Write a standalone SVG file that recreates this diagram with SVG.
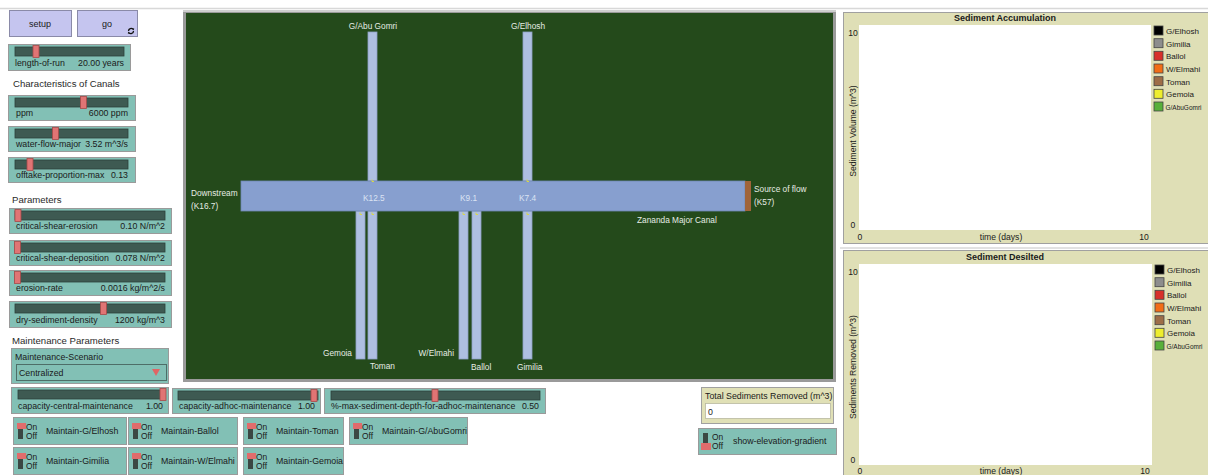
<svg xmlns="http://www.w3.org/2000/svg" width="1208" height="475" viewBox="0 0 1208 475">
<style>
text{font-family:"Liberation Sans",Arial,sans-serif;fill:#1a1a1a}
.wb{fill:#82c0b5;stroke:#9a9a9a;stroke-width:1}
.tr{fill:#3e5a52;stroke:#2c403a;stroke-width:0.8}
.hd{fill:#e07474;stroke:#a84a4a;stroke-width:0.8}
.sl{font-size:8.8px}
.hdr{font-size:9.6px;fill:#2a2a2a}
.btn{fill:#c5c5ef;stroke:#8a8aa8;stroke-width:1}
.tg{font-size:8.8px}
.onoff{font-size:8.4px}
.bar{fill:#3b4843}
.cap{fill:#e06c6c}
.wl{font-size:8.3px;fill:#e6ece4}
.kl{font-size:8.3px;fill:#dbe3f3}
.mc{fill:#879fcf;stroke:#6f87b4;stroke-width:0.8}
.sc{fill:#aebfe1;stroke:#8ea1c6;stroke-width:0.8}
.ym{stroke:#d8d84a;stroke-width:1;fill:none}
.pf{fill:#dfdfb6;stroke:#a0a0a0;stroke-width:1}
.pt{font-size:9px;font-weight:bold;text-anchor:middle}
.ax{font-size:8.6px}
.lg{font-size:8px}
.lgs{font-size:7.4px}
.lsq{stroke:#444;stroke-width:0.8}
</style>
<defs>
<g id="tgOn"><rect class="bar" x="5" y="6" width="5" height="16"/><rect class="cap" x="4" y="6" width="9" height="6"/><text class="onoff" x="13" y="13">On</text><text class="onoff" x="13" y="22">Off</text></g>
<g id="tgOff"><rect class="bar" x="5" y="5" width="5" height="15"/><rect class="cap" x="3" y="15" width="10" height="7"/><text class="onoff" x="14" y="12">On</text><text class="onoff" x="14" y="21">Off</text></g>
</defs>
<line x1="0" y1="8.5" x2="1208" y2="8.5" stroke="#d8d8d8" stroke-width="1.5"/>
<line x1="840" y1="248" x2="1208" y2="248" stroke="#d8d8d8" stroke-width="1.5"/>

<g id="btn-setup"><rect class="btn" x="9.5" y="10.5" width="62" height="26"/><text x="40" y="27" font-size="9" text-anchor="middle">setup</text></g>
<g id="btn-go"><rect class="btn" x="77.5" y="10.5" width="60" height="26"/><text x="107" y="27" font-size="9" text-anchor="middle">go</text>
<path d="M128.5 31 a2.6 2.6 0 0 1 4.6 -1.6 M133.5 31 a2.6 2.6 0 0 1 -4.6 1.6" fill="none" stroke="#111" stroke-width="1.3"/><path d="M132 28.2 l2.2 0.2 l-0.4 2z M130 33.8 l-2.2 -0.2 l0.4 -2z" fill="#111"/></g>

<g id="sl-length"><rect class="wb" x="8.5" y="44.5" width="122" height="26"/><rect class="tr" x="15" y="47" width="109" height="9"/><rect class="hd" x="33" y="45.5" width="6" height="12"/><text class="sl" x="15" y="66">length-of-run</text><text class="sl" x="124" y="66" text-anchor="end">20.00 years</text></g>
<text class="hdr" x="13" y="87">Characteristics of Canals</text>
<g id="sl-ppm"><rect class="wb" x="8.5" y="95.5" width="127" height="25"/><rect class="tr" x="15" y="98" width="113" height="9"/><rect class="hd" x="80.5" y="96.5" width="6" height="12"/><text class="sl" x="16" y="116">ppm</text><text class="sl" x="128" y="116" text-anchor="end">6000 ppm</text></g>
<g id="sl-water"><rect class="wb" x="8.5" y="126.5" width="127" height="25"/><rect class="tr" x="15" y="129" width="113" height="9"/><rect class="hd" x="52.5" y="127.5" width="6" height="12"/><text class="sl" x="16" y="147">water-flow-major</text><text class="sl" x="128" y="147" text-anchor="end">3.52 m^3/s</text></g>
<g id="sl-offtake"><rect class="wb" x="8.5" y="157.5" width="127" height="25"/><rect class="tr" x="15" y="160" width="113" height="9"/><rect class="hd" x="27" y="158.5" width="6" height="12"/><text class="sl" x="16" y="178">offtake-proportion-max</text><text class="sl" x="128" y="178" text-anchor="end">0.13</text></g>

<text class="hdr" x="12" y="203">Parameters</text>
<g id="sl-cse"><rect class="wb" x="9.5" y="208.5" width="162" height="25"/><rect class="tr" x="15" y="211" width="150" height="9"/><rect class="hd" x="15" y="209.5" width="6" height="12"/><text class="sl" x="16" y="229">critical-shear-erosion</text><text class="sl" x="165" y="229" text-anchor="end">0.10 N/m^2</text></g>
<g id="sl-csd"><rect class="wb" x="9.5" y="240.5" width="162" height="25"/><rect class="tr" x="15" y="243" width="150" height="9"/><rect class="hd" x="14.5" y="241.5" width="6" height="12"/><text class="sl" x="16" y="261">critical-shear-deposition</text><text class="sl" x="165" y="261" text-anchor="end">0.078 N/m^2</text></g>
<g id="sl-er"><rect class="wb" x="9.5" y="270.5" width="162" height="25"/><rect class="tr" x="15" y="273" width="150" height="9"/><rect class="hd" x="14.5" y="271.5" width="6" height="12"/><text class="sl" x="16" y="291">erosion-rate</text><text class="sl" x="165" y="291" text-anchor="end">0.0016 kg/m^2/s</text></g>
<g id="sl-dsd"><rect class="wb" x="9.5" y="301.5" width="162" height="26"/><rect class="tr" x="15" y="304" width="150" height="9"/><rect class="hd" x="100.5" y="302.5" width="6" height="12"/><text class="sl" x="16" y="323">dry-sediment-density</text><text class="sl" x="165" y="323" text-anchor="end">1200 kg/m^3</text></g>

<text class="hdr" x="12" y="344">Maintenance Parameters</text>
<g id="ch-scenario"><rect class="wb" x="11.5" y="348.5" width="157" height="35"/><text class="sl" x="15" y="360">Maintenance-Scenario</text><rect x="16.5" y="364.5" width="150" height="16" fill="#82c0b5" stroke="#4e6e68" stroke-width="1"/><text class="sl" x="19" y="376">Centralized</text><path d="M152 369 L160 369 L156 376 Z" fill="#e06464"/></g>
<g id="sl-ccm"><rect class="wb" x="11.5" y="387.5" width="157" height="26"/><rect class="tr" x="18" y="390" width="147" height="9"/><rect class="hd" x="160" y="388.5" width="6" height="12"/><text class="sl" x="18" y="409">capacity-central-maintenance</text><text class="sl" x="163" y="409" text-anchor="end">1.00</text></g>
<g id="sl-cam"><rect class="wb" x="172.5" y="388.5" width="148" height="25"/><rect class="tr" x="178" y="391" width="140" height="9"/><rect class="hd" x="311" y="389.5" width="6" height="12"/><text class="sl" x="179" y="409">capacity-adhoc-maintenance</text><text class="sl" x="315" y="409" text-anchor="end">1.00</text></g>
<g id="sl-max"><rect class="wb" x="324.5" y="388.5" width="221" height="25"/><rect class="tr" x="331" y="391" width="209" height="9"/><rect class="hd" x="432" y="389.5" width="6" height="12"/><text class="sl" x="331" y="409">%-max-sediment-depth-for-adhoc-maintenance</text><text class="sl" x="539" y="409" text-anchor="end">0.50</text></g>

<g id="tg-gelhosh" transform="translate(13,417)"><rect class="wb" x="0.5" y="0.5" width="113" height="27"/><use href="#tgOn"/><text class="tg" x="33" y="17">Maintain-G/Elhosh</text></g>
<g id="tg-ballol" transform="translate(128,417)"><rect class="wb" x="0.5" y="0.5" width="109" height="27"/><use href="#tgOn"/><text class="tg" x="33" y="17">Maintain-Ballol</text></g>
<g id="tg-toman" transform="translate(243,417)"><rect class="wb" x="0.5" y="0.5" width="100" height="27"/><use href="#tgOn"/><text class="tg" x="33" y="17">Maintain-Toman</text></g>
<g id="tg-gabugomri" transform="translate(349,417)"><rect class="wb" x="0.5" y="0.5" width="118" height="27"/><use href="#tgOn"/><text class="tg" x="33" y="17">Maintain-G/AbuGomri</text></g>
<g id="tg-gimilia" transform="translate(13,447)"><rect class="wb" x="0.5" y="0.5" width="113" height="27"/><use href="#tgOn"/><text class="tg" x="33" y="17">Maintain-Gimilia</text></g>
<g id="tg-welmahi" transform="translate(128,447)"><rect class="wb" x="0.5" y="0.5" width="109" height="27"/><use href="#tgOn"/><text class="tg" x="33" y="17">Maintain-W/Elmahi</text></g>
<g id="tg-gemoia" transform="translate(243,447)"><rect class="wb" x="0.5" y="0.5" width="100" height="27"/><use href="#tgOn"/><text class="tg" x="33" y="17">Maintain-Gemoia</text></g>

<g id="world">
<rect x="183" y="10" width="653" height="372" fill="#9a9a9a"/>
<rect x="183" y="10" width="653" height="2" fill="#cfcfcf"/>
<rect x="186" y="13" width="647" height="366" fill="#244a1b"/>
</g>
<g id="canals">
<rect class="sc" x="368" y="32" width="9" height="149"/>
<rect class="sc" x="523" y="32" width="9" height="149"/>
<rect class="sc" x="356" y="211" width="9" height="148"/>
<rect class="sc" x="368" y="211" width="9" height="148"/>
<rect class="sc" x="459" y="211" width="9" height="148"/>
<rect class="sc" x="472" y="211" width="9" height="148"/>
<rect class="sc" x="523" y="211" width="9" height="148"/>
<rect class="mc" x="241" y="181" width="504" height="30"/>
<rect x="745" y="181" width="6" height="30" fill="#a0643a"/>
<path class="ym" d="M372 179.5v2h2 M527 179.5v2h2 M360 212.5v2h2 M372 212.5v2h2 M463 212.5v2h2 M476 212.5v2h2 M527 212.5v2h2"/>
</g>
<g id="world-labels">
<text class="wl" x="373" y="29" text-anchor="middle">G/Abu Gomri</text>
<text class="wl" x="528" y="29" text-anchor="middle">G/Elhosh</text>
<text class="wl" x="191" y="196">Downstream</text>
<text class="wl" x="191" y="209">(K16.7)</text>
<text class="kl" x="363" y="201">K12.5</text>
<text class="kl" x="460" y="201">K9.1</text>
<text class="kl" x="519" y="201">K7.4</text>
<text class="wl" x="754" y="192">Source of flow</text>
<text class="wl" x="754" y="205">(K57)</text>
<text class="wl" x="637" y="223">Zananda Major Canal</text>
<text class="wl" x="352" y="356" text-anchor="end">Gemoia</text>
<text class="wl" x="370" y="369">Toman</text>
<text class="wl" x="454" y="356" text-anchor="end">W/Elmahi</text>
<text class="wl" x="471" y="370">Ballol</text>
<text class="wl" x="517" y="370">Gimilia</text>
</g>

<g id="mon-total"><rect x="701.5" y="387.5" width="132" height="36" fill="#e0e0b6" stroke="#a0a0a0"/><text class="sl" x="705" y="399">Total Sediments Removed (m^3)</text><rect x="705.5" y="403.5" width="125" height="15" fill="#ffffff" stroke="#b8b8a0" stroke-width="0.8"/><text class="sl" x="708" y="415">0</text></g>
<g id="tg-elev" transform="translate(698,428)"><rect class="wb" x="0.5" y="0.5" width="138" height="26"/><use href="#tgOff"/><text class="tg" x="35" y="16">show-elevation-gradient</text></g>

<g id="plot-accum">
<rect class="pf" x="843.5" y="12.5" width="370" height="231"/>
<text class="pt" x="1005" y="21">Sediment Accumulation</text>
<rect x="859" y="25" width="292" height="205" fill="#ffffff"/>
<text class="ax" x="853" y="36" text-anchor="middle">10</text>
<text class="ax" x="853" y="228" text-anchor="middle">0</text>
<text class="ax" x="860" y="240" text-anchor="middle">0</text>
<text class="ax" x="1144" y="240" text-anchor="middle">10</text>
<text class="ax" x="1001" y="240" text-anchor="middle">time (days)</text>
<text class="ax" transform="translate(856,131) rotate(-90)" text-anchor="middle">Sediment Volume (m^3)</text>
<rect class="lsq" x="1154" y="26" width="9" height="9" fill="#000000"/><text class="lg" x="1166" y="34">G/Elhosh</text>
<rect class="lsq" x="1154" y="38.7" width="9" height="9" fill="#8d8d8d"/><text class="lg" x="1166" y="46.7">Gimilia</text>
<rect class="lsq" x="1154" y="51.3" width="9" height="9" fill="#d7302a"/><text class="lg" x="1166" y="59.3">Ballol</text>
<rect class="lsq" x="1154" y="64" width="9" height="9" fill="#f26d16"/><text class="lg" x="1166" y="72">W/Elmahi</text>
<rect class="lsq" x="1154" y="76.7" width="9" height="9" fill="#9d6d47"/><text class="lg" x="1166" y="84.7">Toman</text>
<rect class="lsq" x="1154" y="89.3" width="9" height="9" fill="#eeee2e"/><text class="lg" x="1166" y="97.3">Gemoia</text>
<rect class="lsq" x="1154" y="102" width="9" height="9" fill="#58b03b"/><text class="lgs" x="1165.5" y="110" textLength="36" lengthAdjust="spacingAndGlyphs">G/AbuGomri</text>
</g>
<g id="plot-desilt">
<rect class="pf" x="843.5" y="250.5" width="370" height="230"/>
<text class="pt" x="1005" y="260">Sediment Desilted</text>
<rect x="859" y="264" width="293" height="201" fill="#ffffff"/>
<text class="ax" x="853" y="275" text-anchor="middle">10</text>
<text class="ax" x="853" y="463" text-anchor="middle">0</text>
<text class="ax" x="860" y="474" text-anchor="middle">0</text>
<text class="ax" x="1145" y="474" text-anchor="middle">10</text>
<text class="ax" x="1001" y="474" text-anchor="middle">time (days)</text>
<text class="ax" transform="translate(856,367) rotate(-90)" text-anchor="middle">Sediments Removed (m^3)</text>
<rect class="lsq" x="1155" y="265" width="9" height="9" fill="#000000"/><text class="lg" x="1167" y="273">G/Elhosh</text>
<rect class="lsq" x="1155" y="277.7" width="9" height="9" fill="#8d8d8d"/><text class="lg" x="1167" y="285.7">Gimilia</text>
<rect class="lsq" x="1155" y="290.3" width="9" height="9" fill="#d7302a"/><text class="lg" x="1167" y="298.3">Ballol</text>
<rect class="lsq" x="1155" y="303" width="9" height="9" fill="#f26d16"/><text class="lg" x="1167" y="311">W/Elmahi</text>
<rect class="lsq" x="1155" y="315.7" width="9" height="9" fill="#9d6d47"/><text class="lg" x="1167" y="323.7">Toman</text>
<rect class="lsq" x="1155" y="328.3" width="9" height="9" fill="#eeee2e"/><text class="lg" x="1167" y="336.3">Gemoia</text>
<rect class="lsq" x="1155" y="341" width="9" height="9" fill="#58b03b"/><text class="lgs" x="1166.5" y="349" textLength="36" lengthAdjust="spacingAndGlyphs">G/AbuGomri</text>
</g>
</svg>
